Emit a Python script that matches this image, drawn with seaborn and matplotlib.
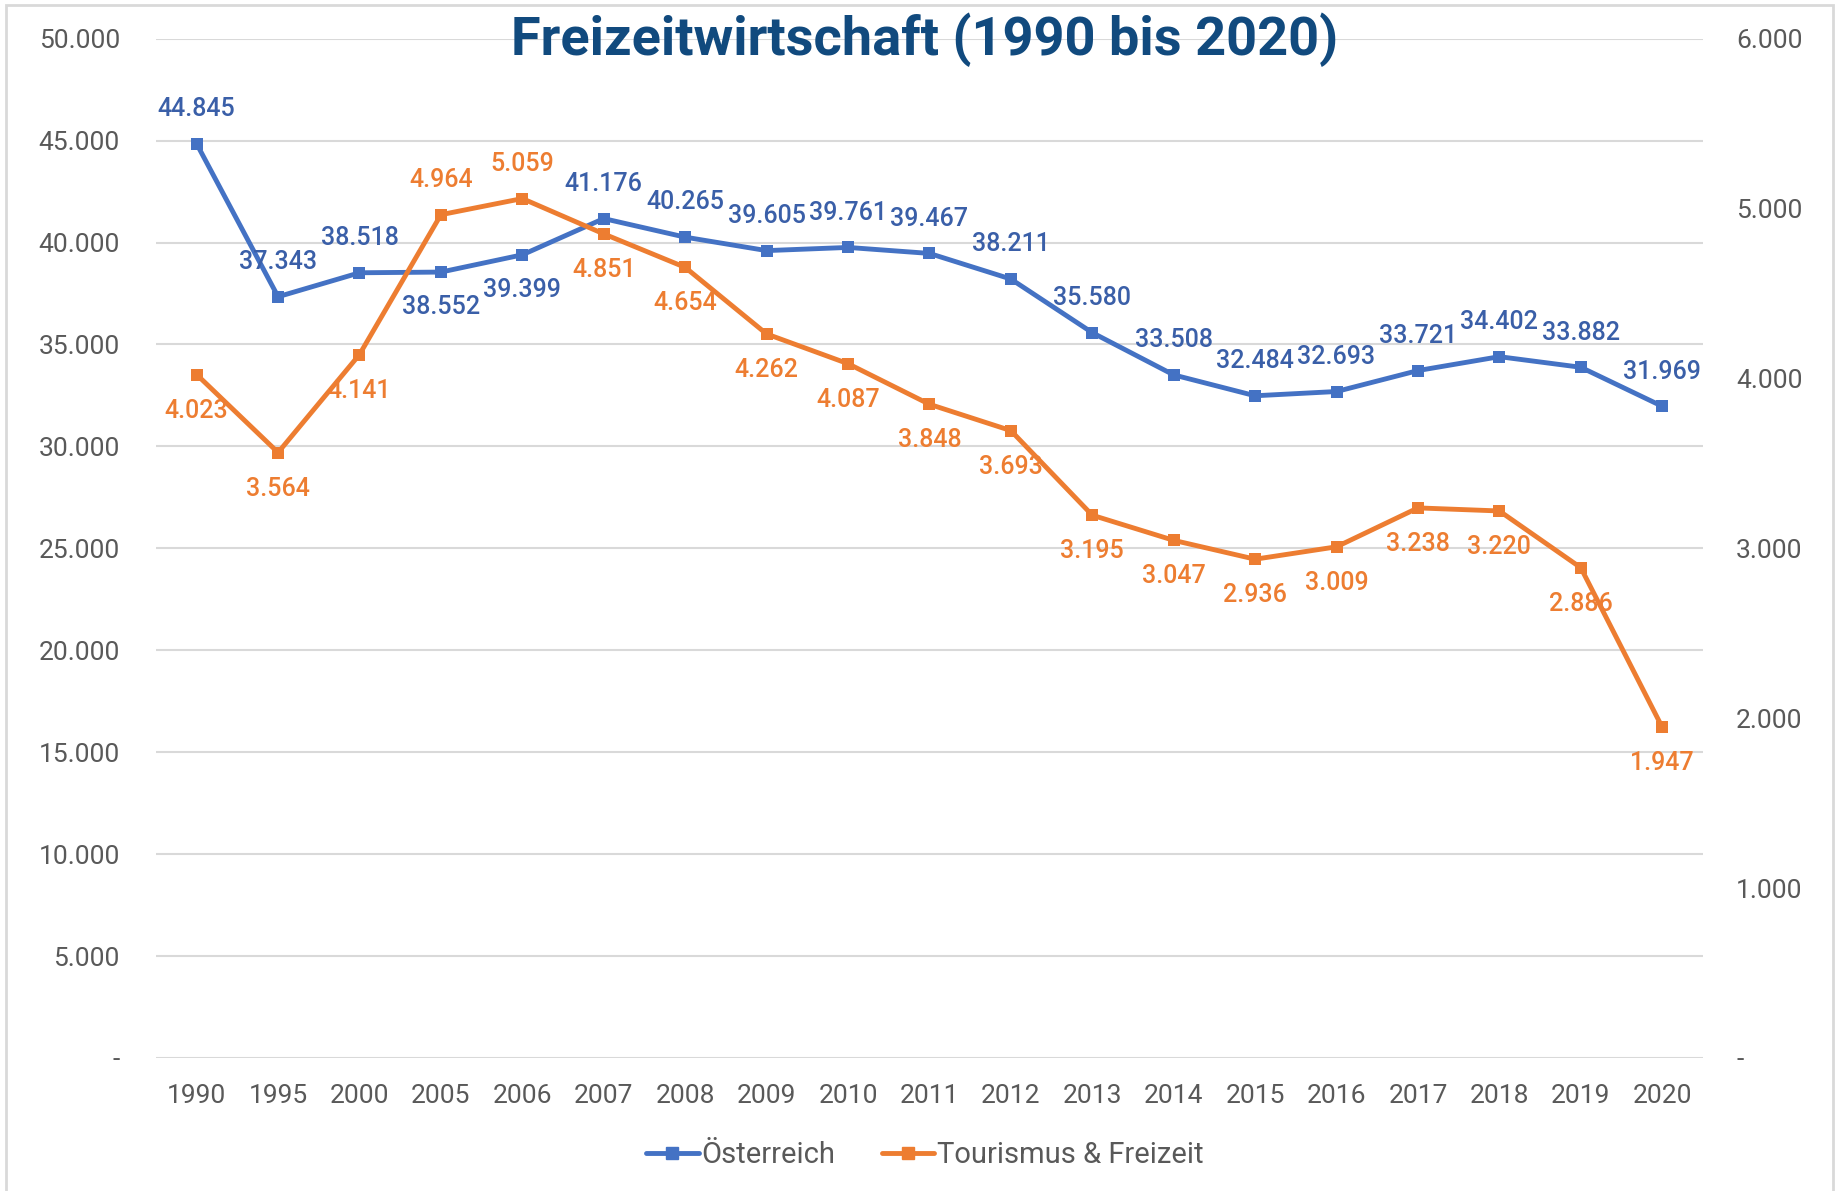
import seaborn as sns
import matplotlib.pyplot as plt
from matplotlib.patches import Rectangle
from matplotlib.lines import Line2D
from matplotlib.ticker import FuncFormatter, MultipleLocator

# data
years = ["1990", "1995", "2000", "2005", "2006", "2007", "2008", "2009", "2010",
         "2011", "2012", "2013", "2014", "2015", "2016", "2017", "2018", "2019", "2020"]
oesterreich = [44845, 37343, 38518, 38552, 39399, 41176, 40265, 39605, 39761,
               39467, 38211, 35580, 33508, 32484, 32693, 33721, 34402, 33882, 31969]
tourismus = [4023, 3564, 4141, 4964, 5059, 4851, 4654, 4262, 4087,
             3848, 3693, 3195, 3047, 2936, 3009, 3238, 3220, 2886, 1947]
# label above (+1) or below (-1) the point
blue_side = [1, 1, 1, -1, -1, 1, 1, 1, 1, 1, 1, 1, 1, 1, 1, 1, 1, 1, 1]
orange_side = [-1, -1, -1, 1, 1, -1, -1, -1, -1, -1, -1, -1, -1, -1, -1, -1, -1, -1, -1]

BLUE = "#4472C4"
ORANGE = "#ED7D31"
GREY = "#595959"
GRID = "#D9D9D9"

sns.set_style("white")
plt.rcParams['font.family'] = ['Roboto', 'DejaVu Sans']

def de_fmt(v, pos=None):
    if v == 0:
        return "-"
    return f"{v:,.0f}".replace(",", ".")

fig = plt.figure(figsize=(18.39, 11.91), dpi=100)
fig.patches.append(Rectangle((0.003, -0.1), 0.994, 1.096, transform=fig.transFigure,
                             fill=False, edgecolor=GRID, linewidth=2))
ax = fig.add_axes([0.0848, 0.1117, 0.8412, 0.8558])
ax2 = ax.twinx()

x = list(range(len(years)))
sns.lineplot(x=x, y=oesterreich, ax=ax, color=BLUE, linewidth=3.5, marker="s",
             markersize=9, markeredgewidth=0, sort=False)
sns.lineplot(x=x, y=tourismus, ax=ax2, color=ORANGE, linewidth=3.5, marker="s",
             markersize=9, markeredgewidth=0, sort=False)

ax.set_xlim(-0.5, len(years) - 0.5)
ax.set_ylim(0, 50000)
ax2.set_ylim(0, 6000)
ax.yaxis.set_major_locator(MultipleLocator(5000))
ax2.yaxis.set_major_locator(MultipleLocator(1000))
ax.yaxis.set_major_formatter(FuncFormatter(de_fmt))
ax2.yaxis.set_major_formatter(FuncFormatter(de_fmt))
ax.set_xticks(x)
ax.set_xticklabels(years)

ax.grid(axis="y", color=GRID, linewidth=1.5)
ax.set_axisbelow(True)
ax2.grid(False)
for a in (ax, ax2):
    for s in a.spines.values():
        s.set_visible(False)
ax.tick_params(axis="y", length=0, pad=26, labelsize=19, labelcolor=GREY)
ax2.tick_params(axis="y", length=0, pad=24, labelsize=19, labelcolor=GREY)
ax.tick_params(axis="x", length=0, pad=19, labelsize=19, labelcolor=GREY)

for i, (v, s) in enumerate(zip(oesterreich, blue_side)):
    off = 25 if s > 0 else 25
    ax.annotate(de_fmt(v), (i, v), xytext=(0, off * s), textcoords="offset points",
                ha="center", va="center", fontsize=18, fontweight="medium",
                color="#3A5FA8")
for i, (v, s) in enumerate(zip(tourismus, orange_side)):
    off = 25 if s > 0 else 26
    ax2.annotate(de_fmt(v), (i, v), xytext=(0, off * s), textcoords="offset points",
                 ha="center", va="center", fontsize=18, fontweight="medium",
                 color=ORANGE)

fig.text(0.503, 0.954, "Freizeitwirtschaft (1990 bis 2020)", ha="center",
         va="baseline", fontsize=39, fontweight="semibold", color="#114A7E")

handles = [Line2D([], [], color=BLUE, linewidth=3.5, marker="s", markersize=9),
           Line2D([], [], color=ORANGE, linewidth=3.5, marker="s", markersize=9)]
leg = fig.legend(handles, ["Österreich", "Tourismus & Freizeit"], loc="center",
                 bbox_to_anchor=(0.503, 0.03), ncol=2, frameon=False, fontsize=21,
                 handlelength=1.8, handletextpad=0.1, columnspacing=1.6)
for t in leg.get_texts():
    t.set_color(GREY)

fig.savefig("out.png", dpi=100)
